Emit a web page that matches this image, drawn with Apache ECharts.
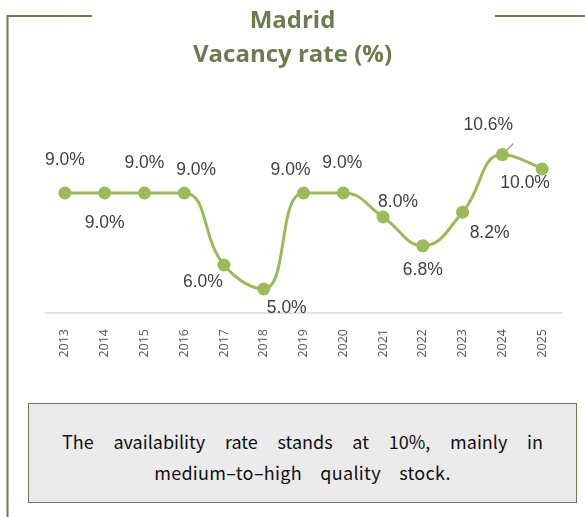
<!DOCTYPE html>
<html>
<head>
  <meta charset="UTF-8">
  <title>Madrid vacancy rate</title>
  <script src="https://cdn.jsdelivr.net/npm/echarts@6/dist/echarts.min.js"></script>
  <style type="text/css">
    *{ margin:0; padding:0; box-sizing:border-box; }
    body{ width:585px; height:517px; background:#fff; position:relative; overflow:hidden; }
    #main{ width:585px; height:517px; position:absolute; left:0; top:0; }
    .note{
      position:absolute; left:28px; top:403px; width:549px; height:100px;
      background:#ebebeb; border:1.5px solid #6b7d4f;
      padding:22px 33px 0 33px;
      font-family:"Noto Sans CJK KR","Noto Sans",sans-serif; font-size:18px; line-height:31px; color:#111;
    }
    .note .l1{ text-align:justify; text-align-last:justify; }
    .note .l2{ text-align:center; word-spacing:14px; letter-spacing:0.3px; }
  </style>
</head>
<body>
  <div id="main"></div>
  <div class="note">
    <div class="l1">The availability rate stands at 10%, mainly in</div>
    <div class="l2">medium–to–high quality stock.</div>
  </div>
  <script type="text/javascript">
    // data
    var years = ['2013','2014','2015','2016','2017','2018','2019','2020','2021','2022','2023','2024','2025'];
    var vacancy = [9.0, 9.0, 9.0, 9.0, 6.0, 5.0, 9.0, 9.0, 8.0, 6.8, 8.2, 10.6, 10.0];
    // label offsets from each point (px)
    var labelOffsets = [[0,-33],[0,30],[0,-30],[12,-23],[-21,17],[23,19],[-13,-23],[-1,-30],[15,-15],[0,24],[27,21],[-14,-29],[-17,14]];

    var green = '#6b7d4f';
    var myChart = echarts.init(document.getElementById('main'));

    var points = vacancy.map(function(v, i){
      var item = { value: v, label: { offset: labelOffsets[i] } };
      if (i === 11) {
        item.labelLine = { show: true, lineStyle: { color: '#a6a6a6', width: 1.5 } };
      }
      return item;
    });

    var option = {
      animation: false,
      title: [
        { text: 'Madrid', left: 'center', top: 4,
          textStyle: { color: green, fontSize: 24, fontWeight: 'bold', fontFamily: 'Open Sans' } },
        { text: 'Vacancy rate (%)', left: 'center', top: 38,
          textStyle: { color: green, fontSize: 24, fontWeight: 'bold', fontFamily: 'Open Sans' } }
      ],
      graphic: [
        { type: 'polyline', shape: { points: [[92,16],[7.5,16],[7.5,517]] }, style: { stroke: green, lineWidth: 2, fill: null } },
        { type: 'line', shape: { x1: 495, y1: 16, x2: 585, y2: 16 }, style: { stroke: green, lineWidth: 2 } }
      ],
      grid: { left: 45, right: 23, top: 121, height: 192 },
      xAxis: {
        type: 'category', data: years, boundaryGap: true,
        axisLine: { lineStyle: { color: '#d9d9d9', width: 1.5 } },
        axisTick: { show: false },
        axisLabel: { rotate: 90, color: '#595959', fontSize: 12.5, fontFamily: 'Open Sans', margin: 16 }
      },
      yAxis: {
        type: 'value', min: 4, max: 12, show: false,
        splitLine: { show: false }
      },
      series: [{
        type: 'line', data: points, smooth: 0.45,
        symbol: 'circle', symbolSize: 13,
        lineStyle: { color: '#9bbb59', width: 3 },
        itemStyle: { color: '#9bbb59' },
        label: {
          show: true, position: 'inside',
          color: '#404040', fontSize: 17.5, fontFamily: 'Liberation Sans',
          formatter: function(p){ return p.value.toFixed(1) + '%'; }
        }
      }]
    };
    myChart.setOption(option);
  </script>
</body>
</html>
